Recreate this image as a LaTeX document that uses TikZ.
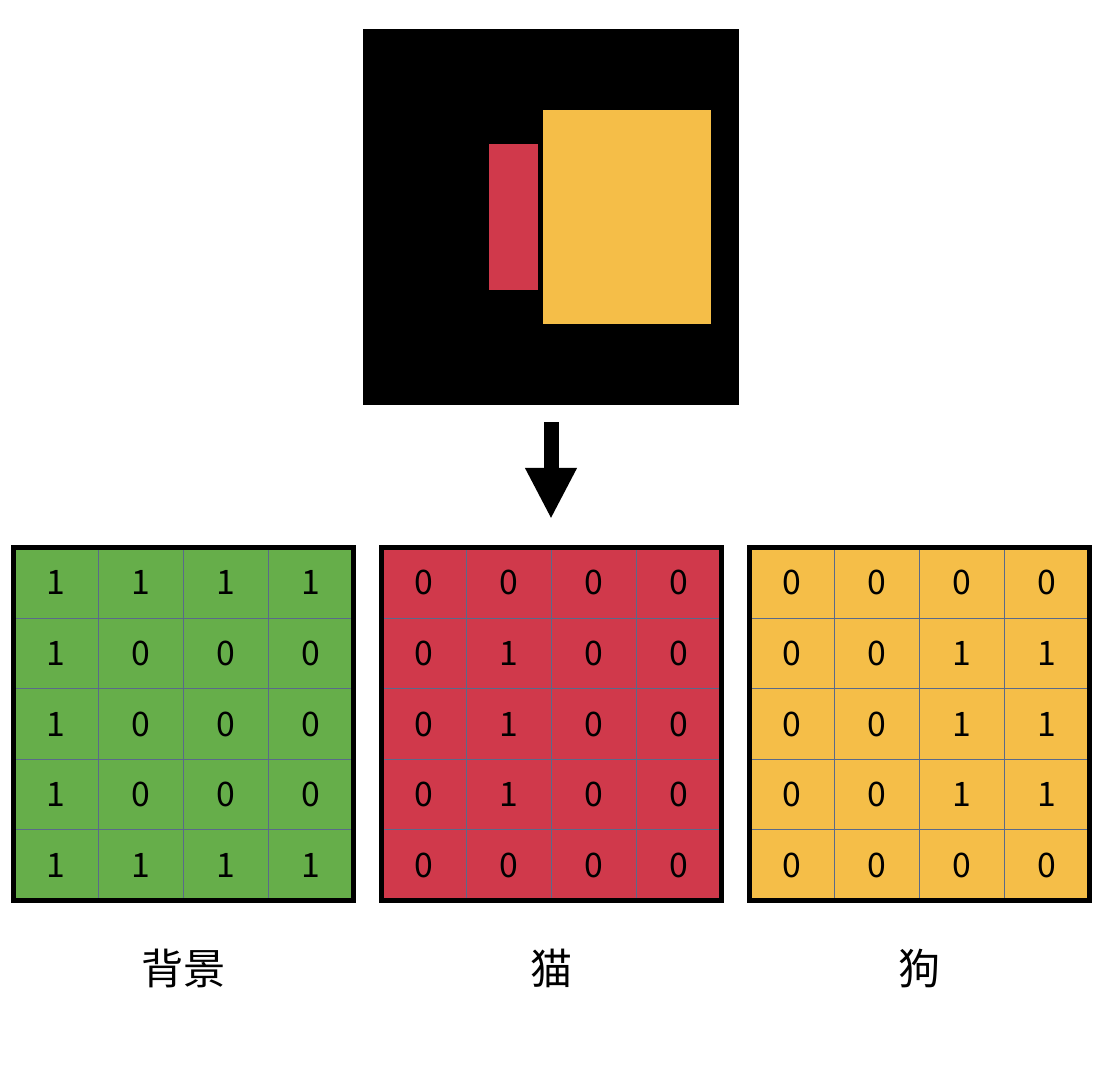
\documentclass[tikz,border=0pt]{standalone}
\usepackage{fontspec}
\usepackage{tikz}
\usetikzlibrary{arrows.meta,positioning}
\newfontfamily\cjk{Noto Sans CJK SC}
\definecolor{bggreen}{HTML}{66AE4A}
\definecolor{catred}{HTML}{D0394B}
\definecolor{dogyellow}{HTML}{F5BE48}
\definecolor{cellline}{HTML}{5A6A8A}
\tikzset{
  cellnum/.style={font=\cjk\fontsize{24}{24}\selectfont, inner sep=0pt},
  classlabel/.style={font=\cjk\fontsize{30}{30}\selectfont, inner sep=0pt},
  gridborder/.style={draw=black, line width=3.6pt},
  cellrule/.style={draw=cellline, line width=0.6pt},
  bigarrow/.style={line width=0.375cm, -{Triangle[width=1.2cm,length=1.275cm]}}
}
\begin{document}
\begin{tikzpicture}[x=0.025cm,y=-0.025cm]
\useasboundingbox (0,0) rectangle (1104,1080);
% input image
\fill[black] (363,29) rectangle (739,405);
\fill[catred] (489,144) rectangle (538,290);
\fill[dogyellow] (543,110) rectangle (711,324);
\coordinate (imgbottom) at (551,422);
\coordinate (masktop) at (551,519);
\draw[bigarrow] (imgbottom) -- (masktop);
% one mask per class
\foreach \name/\x/\col/\vals/\lab in {
  bg/13.5/bggreen/{{1,1,1,1},{1,0,0,0},{1,0,0,0},{1,0,0,0},{1,1,1,1}}/背景,
  cat/381.5/catred/{{0,0,0,0},{0,1,0,0},{0,1,0,0},{0,1,0,0},{0,0,0,0}}/猫,
  dog/749.5/dogyellow/{{0,0,0,0},{0,0,1,1},{0,0,1,1},{0,0,1,1},{0,0,0,0}}/狗}{
  \fill[\col] (\x,547.5) rectangle ++(340,353);
  \foreach \c in {1,2,3}
    \draw[cellrule] (\x+\c*85,547.5) -- ++(0,353);
  \foreach \r in {1,...,4}
    \draw[cellrule] (\x,547.5+\r*70.6) -- ++(340,0);
  \draw[gridborder] (\x,547.5) rectangle ++(340,353);
  \foreach \row [count=\r] in \vals
    \foreach \d [count=\c] in \row
      \node[cellnum] (\name-\r-\c) at (\x+\c*85-42.5,547.5+\r*70.6-35.3) {\d};
  \node[classlabel] (\name-label) at (\x+170,968) {\lab};
}
\end{tikzpicture}
\end{document}
